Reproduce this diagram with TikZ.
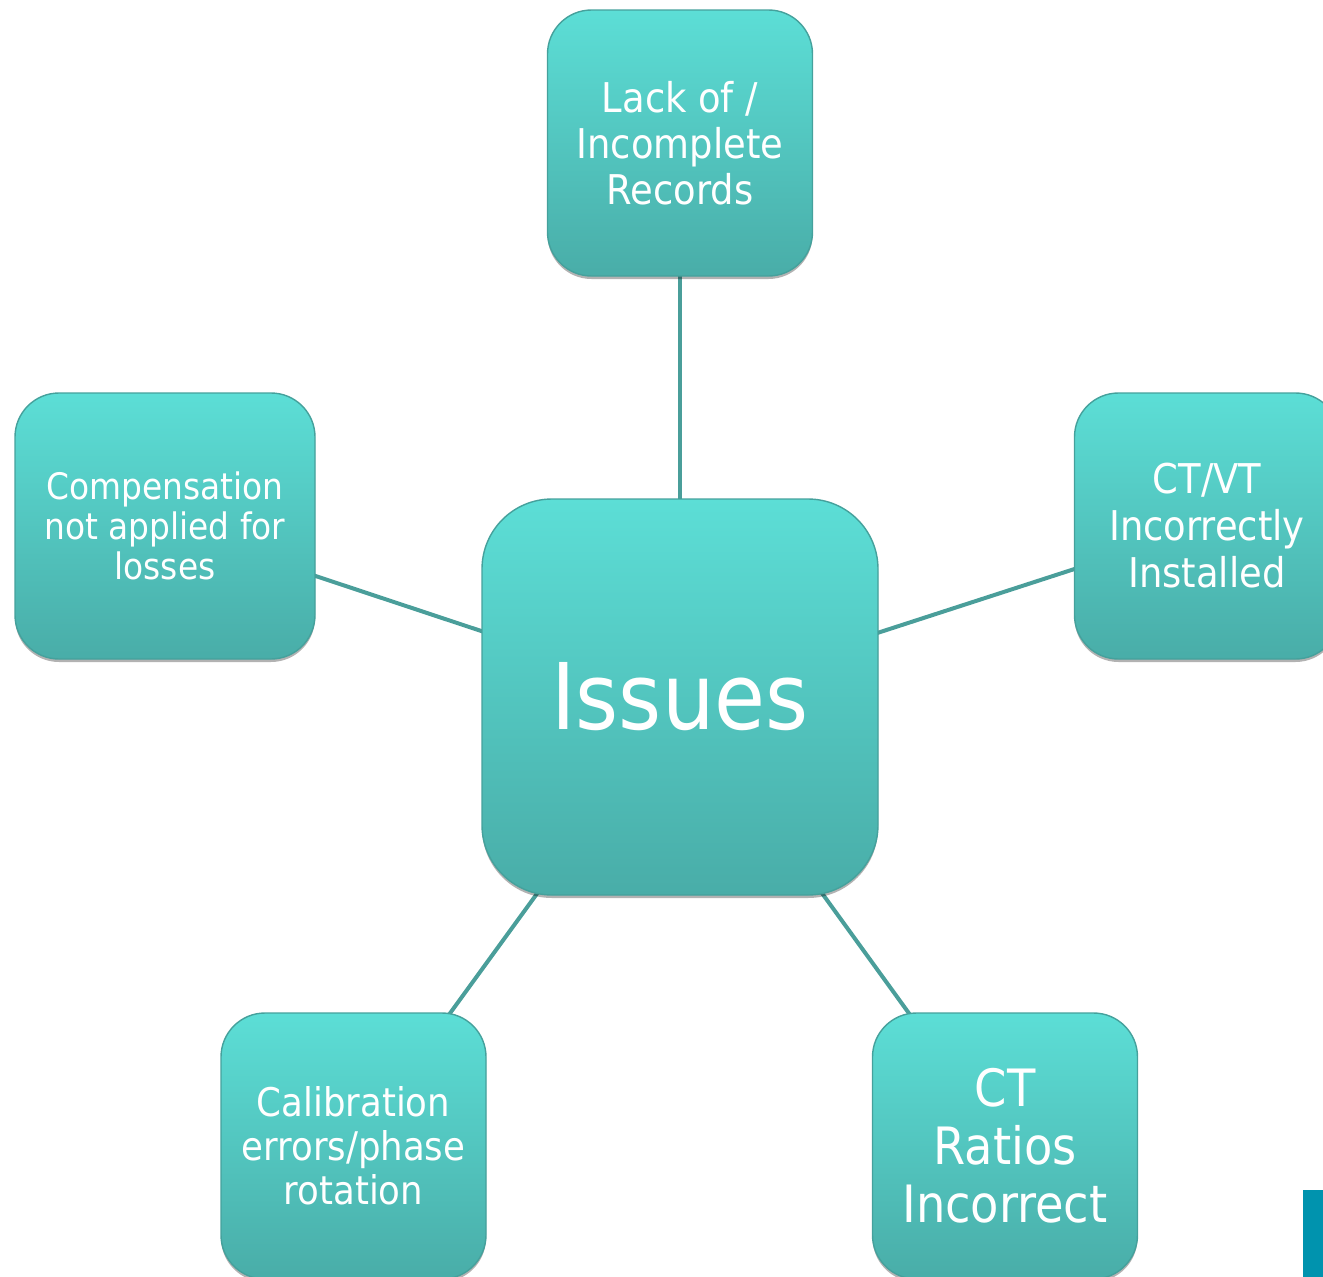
\documentclass[tikz,border=0pt]{standalone}
\usepackage{fontspec}
\setmainfont{DejaVu Sans Condensed}
\usetikzlibrary{shadows,backgrounds}
\definecolor{ctop}{HTML}{5CDED6}
\definecolor{cbot}{HTML}{49ADA8}
\definecolor{cedge}{HTML}{45A19C}
\definecolor{cline}{HTML}{4A9E9A}
\definecolor{cbar}{HTML}{0093AE}
\begin{document}
\begin{tikzpicture}[x=1pt,y=-1pt,
  box/.style={rectangle, rounded corners=44pt, top color=ctop, bottom color=cbot,
    draw=cedge, line width=1.4pt, text=white, align=center, inner sep=0pt,
    minimum width=265pt, minimum height=266pt,
    drop shadow={shadow xshift=0pt,shadow yshift=-3pt,opacity=0.3,fill=black}},
  link/.style={draw=cline, line width=4pt}]
\useasboundingbox (0,0) rectangle (1323,1277);
\clip (0,0) rectangle (1323,1277);
\node[box, rounded corners=70pt, minimum width=396pt, minimum height=396pt,
  font={\fontsize{92}{100}\selectfont}] (issues) at (680,697) {Issues};
\node[box, font={\fontsize{41}{46}\selectfont}] (top) at (680,143) {Lack of /\\Incomplete\\Records};
\node[box, minimum width=300pt, font={\fontsize{36.5}{40}\selectfont}] (left) at (165,526) {Compensation\\not applied for\\losses};
\node[box, font={\fontsize{41}{47}\selectfont}] (right) at (1207,526) {CT/VT\\Incorrectly\\Installed};
\node[box, font={\fontsize{39.5}{44}\selectfont}] (bl) at (353.5,1146) {Calibration\\errors/phase\\rotation};
\node[box, font={\fontsize{51.5}{58}\selectfont}] (br) at (1005,1146) {CT\\Ratios\\Incorrect};
\begin{scope}[on background layer]
  \draw[link] (issues.center) -- (top.center);
  \draw[link] (issues.center) -- (left.center);
  \draw[link] (issues.center) -- (right.center);
  \draw[link] (issues.center) -- (bl.center);
  \draw[link] (issues.center) -- (br.center);
\end{scope}
\fill[cbar] (1303,1190) rectangle (1323,1277);
\end{tikzpicture}
\end{document}
